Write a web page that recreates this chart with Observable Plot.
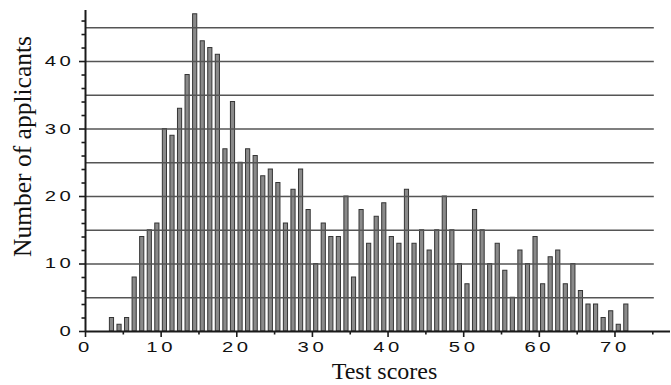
<!DOCTYPE html>
<html>
<head>
<meta charset="utf-8">
<script src="https://cdn.jsdelivr.net/npm/d3@7"></script>
<script src="https://cdn.jsdelivr.net/npm/@observablehq/plot@0.6"></script>
<style>
html, body { margin: 0; padding: 0; background: #fff; }
#chart svg g[aria-label$="tick label"] text { letter-spacing: 2.5px; }
</style>
</head>
<body>
<div id="chart"></div>
<script>
// Score bins (each bar covers [score, score+1))
const scores = [3,4,5,6,7,8,9,10,11,12,13,14,15,16,17,18,19,20,21,22,23,24,25,26,27,28,29,30,31,32,33,34,35,36,37,38,39,40,41,42,43,44,45,46,47,48,49,50,51,52,53,54,55,56,57,58,59,60,61,62,63,64,65,66,67,68,69,70,71];
const applicants = [2,1,2,8,14,15,16,30,29,33,38,47,43,42,41,27,34,25,27,26,23,24,22,16,21,24,18,10,16,14,14,20,8,18,13,17,19,14,13,21,13,15,12,15,20,15,10,7,18,15,10,13,9,5,12,10,14,7,11,12,7,10,6,4,4,2,3,1,4];

const xMajorTicks = [0,10,20,30,40,50,60,70];
const xMinorTicks = [5,15,25,35,45,55,65,75];
const yMajorTicks = [0,10,20,30,40];
const yMinorTicks = [2,4,6,8,12,14,16,18,22,24,26,28,32,34,36,38,42,44,46];
const gridLevels = [5,10,15,20,25,30,35,40,45];

const xTitle = "Test scores";
const yTitle = "Number of applicants";

const data = scores.map((s, i) => ({score: s, count: applicants[i]}));

const axisColor = "#1a1a1a";
const serif = "'Liberation Serif', 'Times New Roman', serif";

const chart = Plot.plot({
  width: 671,
  height: 385,
  marginLeft: 85,
  marginRight: 1,
  marginTop: 10,
  marginBottom: 54,
  style: {fontFamily: "'Liberation Sans', Arial, sans-serif", fontSize: "14px", color: "#111", background: "#fff"},
  x: {domain: [0, 77.34], label: null},
  y: {domain: [0, 47.56], label: null},
  marks: [
    Plot.rectY(data, {x1: "score", x2: d => d.score + 1, y1: 0, y2: "count",
      insetLeft: 1.7, insetRight: 1.7, fill: "#8a8a8a", stroke: "#353535", strokeWidth: 1}),
    Plot.ruleY(gridLevels, {y: d => d, x1: 0, x2: 75.2, stroke: "#555", strokeWidth: 1.5}),
    Plot.axisX(xMajorTicks, {tickSize: 6, tickPadding: 5, label: null, stroke: axisColor, strokeWidth: 1.6, tickFormat: d => String(d)}),
    Plot.axisX(xMinorTicks, {tickSize: 3.5, label: null, stroke: axisColor, strokeWidth: 1.6, tickFormat: () => ""}),
    Plot.axisY(yMajorTicks, {tickSize: 6, tickPadding: 5, label: null, stroke: axisColor, strokeWidth: 1.6, tickFormat: d => String(d)}),
    Plot.axisY(yMinorTicks, {tickSize: 3.5, label: null, stroke: axisColor, strokeWidth: 1.6, tickFormat: () => ""}),
    Plot.ruleX([0], {stroke: axisColor, strokeWidth: 2}),
    Plot.ruleY([0], {stroke: axisColor, strokeWidth: 2}),
    Plot.text([xTitle], {text: d => d, frameAnchor: "bottom", textAnchor: "middle", lineAnchor: "middle",
      dx: 6.5, dy: 40, fontFamily: serif, fontSize: 24, fill: "#111"}),
    Plot.text([yTitle], {text: d => d, frameAnchor: "left", textAnchor: "middle", lineAnchor: "middle",
      rotate: -90, dx: -63, dy: -24.5, fontFamily: serif, fontSize: 25.5, fill: "#111"})
  ]
});

document.getElementById("chart").appendChild(chart);

// Widen tick-label glyphs horizontally around their anchor, like the reference's wide digits
d3.select(chart).selectAll('g[aria-label$="tick label"] text').each(function() {
  const t = d3.select(this);
  let tr = t.attr("transform");
  if (!tr) {
    const x = +t.attr("x") || 0, y = +t.attr("y") || 0;
    t.attr("x", null).attr("y", null);
    tr = `translate(${x},${y})`;
  }
  t.attr("transform", tr + " scale(1.45,1)");
});
</script>
</body>
</html>
